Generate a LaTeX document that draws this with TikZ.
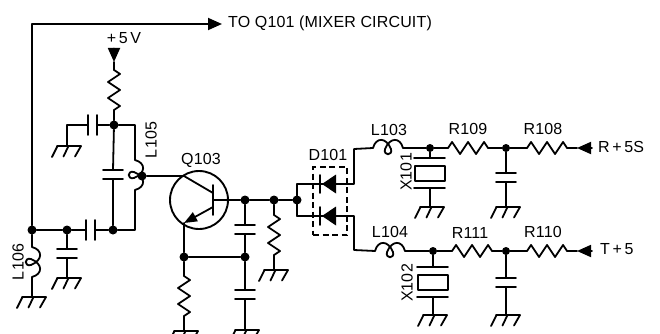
\documentclass[tikz,border=0pt]{standalone}
\usepackage{fontspec}
\setmainfont[LetterSpace=1]{Liberation Sans}
\usetikzlibrary{arrows.meta}
\tikzset{
  x=1pt,y=-1pt,
  wire/.style={line width=1.8pt,line join=round,line cap=round},
  dot/.style={circle,fill=black,inner sep=0pt,minimum size=9pt},
  lbl/.style={inner sep=0pt,font=\fontsize{16}{16}\selectfont},
  arr/.style={wire,-{Triangle[length=14pt,width=12pt]}},
  res/.pic={
    \coordinate (-in) at (0,0); \coordinate (-out) at (40,0);
    \draw[wire] (0,0)--(4,-6)--(12,6)--(20,-6)--(28,6)--(36,-6)--(40,0);
  },
  cap/.pic={
    \coordinate (-in) at (0,0); \coordinate (-out) at (9,0);
    \draw[wire] (0,-10)--(0,10) (9,-10)--(9,10);
  },
  coil/.pic={
    \coordinate (-in) at (0,0); \coordinate (-out) at (30,0); \coordinate (-mid) at (15,0);
    \draw[wire] (0,0) .. controls (3,-11) and (13,-11) .. (18,1)
      .. controls (20,8) and (10,8) .. (12,1)
      .. controls (17,-11) and (27,-11) .. (30,0);
  },
  gnd/.pic={
    \coordinate (-top) at (0,0);
    \draw[wire] (-10,0)--(14,0) (-9.5,0)--(-15,11) (1.5,0)--(-3.5,10.5) (14,0)--(8,10.5);
  },
  xtal/.pic={
    \coordinate (-in) at (0,0); \coordinate (-out) at (30,0);
    \draw[wire] (0,-15)--(0,16) (30,-15)--(30,16);
    \draw[wire] (8,-15) rectangle (23,15);
  },
  diode/.pic={
    \fill (2,0)--(16,-9.5)--(16,9.5)--cycle;
    \draw[wire] (0,-9)--(0,9);
  }
}
\begin{document}
\begin{tikzpicture}
\useasboundingbox (0,0) rectangle (660,334);
% junctions
\node[dot] (jL) at (32,230) {};
\node[dot] (jC) at (67,230) {};
\node[dot] (jB) at (113,230) {};
\node[dot] (jT) at (114,125) {};
\node[dot] (jbase) at (142,176) {};
\node[dot] (jE) at (184,257) {};
\node[dot] (jF) at (245,257) {};
\node[dot] (jO1) at (245,200) {};
\node[dot] (jO2) at (274,200) {};
\node[dot] (jO3) at (297,200) {};
\node[dot,minimum size=8pt] (j1a) at (430,148) {};
\node[dot,minimum size=8pt] (j1b) at (506,148) {};
\node[dot,minimum size=8pt] (j2a) at (433,251) {};
\node[dot,minimum size=8pt] (j2b) at (506,251) {};
% coordinates
\coordinate (tl) at (32,24);
\coordinate (tr) at (222,24);
\coordinate (p5) at (114,50);
\coordinate (p5t) at (114,62);
\coordinate (cg) at (67,125);
\coordinate (Lt) at (135,125);
\coordinate (Lb) at (135,230);
\coordinate (cc) at (213,193);
\coordinate (ce) at (213,207);
\coordinate (eb) at (184,223);
\coordinate (bb) at (184,176);
\coordinate (d1) at (297,184);
\coordinate (d2) at (297,216);
\coordinate (u1) at (354,184);
\coordinate (u2) at (354,149);
\coordinate (v1) at (354,216);
\coordinate (v2) at (354,250);
\coordinate (t1) at (592,148);
\coordinate (t1t) at (577,148);
\coordinate (t2) at (592,251);
\coordinate (t2t) at (577,251);
% components
\pic[rotate=-90] (r5) at (114,70) {res};
\pic (c1) at (88,125) {cap};
\pic[rotate=-90] (c2) at (113,170) {cap};
\pic (c3) at (86,230) {cap};
\pic[rotate=-90] (c4) at (67,249) {cap};
\pic[rotate=-90] (L105) at (135,160) {coil};
\pic[rotate=-90] (L106) at (32,247) {coil};
\pic (g1) at (67,146) {gnd};
\pic (g2) at (67,278) {gnd};
\pic (g3) at (32,297) {gnd};
\pic[rotate=-90] (r6) at (184,276) {res};
\pic (g4) at (184,331) {gnd};
\pic[rotate=-90] (c5) at (245,225) {cap};
\pic[rotate=-90] (c6) at (245,290) {cap};
\pic (g5) at (245,330) {gnd};
\pic[rotate=-90] (r7) at (274,215) {res};
\pic (g6) at (274,270) {gnd};
\pic (d101a) at (320,184) {diode};
\pic (d101b) at (320,216) {diode};
\pic (L103) at (373,148) {coil};
\pic (L104) at (375,251) {coil};
\pic[rotate=-90] (x1) at (430,158) {xtal};
\pic[rotate=-90] (x2) at (433,267) {xtal};
\pic (g7) at (430,207) {gnd};
\pic (g8) at (433,315) {gnd};
\pic (R109) at (448,148) {res};
\pic (R108) at (527,148) {res};
\pic (R111) at (452,251) {res};
\pic (R110) at (527,251) {res};
\pic[rotate=-90] (c7) at (506,173) {cap};
\pic[rotate=-90] (c8) at (506,278) {cap};
\pic (g9) at (506,207) {gnd};
\pic (g10) at (506,315) {gnd};
% transistor
\node[circle,draw,line width=1.9pt,minimum size=58pt,inner sep=0pt] (q) at (199,200) {};
\draw[wire] (213,185)--(213,215);
% connectors
\draw[wire] (jL)--(tl);
\draw[arr] (tl)--(tr);
\draw[arr] (p5)--(p5t);
\draw[wire] (p5t)--(r5-in);
\draw[wire] (r5-out)--(jT);
\draw[wire] (jT)--(c1-out);
\draw[wire] (c1-in)--(cg)--(g1-top);
\draw[wire] (jT)--(c2-in);
\draw[wire] (c2-out)--(jB);
\draw[wire] (jT)--(Lt)--(L105-in);
\draw[wire] (L105-out)--(Lb)--(jB);
\draw[wire] (jB)--(c3-out);
\draw[wire] (c3-in)--(jC)--(jL);
\draw[wire] (jC)--(c4-in);
\draw[wire] (c4-out)--(g2-top);
\draw[wire] (jL)--(L106-in);
\draw[wire] (L106-out)--(g3-top);
\draw[wire] (jbase)--(bb)--(cc);
\draw[wire,-{Triangle[length=13pt,width=10pt]}] (ce)--(eb);
\draw[wire] (eb)--(jE);
\draw[wire] (jE)--(jF);
\draw[wire] (jE)--(r6-in);
\draw[wire] (r6-out)--(g4-top);
\draw[wire] (213,200)--(jO1);
\draw[wire] (jO1)--(jO2);
\draw[wire] (jO2)--(jO3);
\draw[wire] (jO1)--(c5-in);
\draw[wire] (c5-out)--(jF);
\draw[wire] (jF)--(c6-in);
\draw[wire] (c6-out)--(g5-top);
\draw[wire] (jO2)--(r7-in);
\draw[wire] (r7-out)--(g6-top);
\draw[wire] (d1)--(d2);
\draw[wire] (d1)--(u1)--(u2)--(L103-in);
\draw[wire] (d2)--(v1)--(v2)--(L104-in);
\draw[wire] (L103-out)--(j1a);
\draw[wire] (j1a)--(R109-in);
\draw[wire] (R109-out)--(j1b);
\draw[wire] (j1b)--(R108-in);
\draw[wire] (R108-out)--(t1t);
\draw[arr] (t1)--(t1t);
\draw[wire] (L104-out)--(j2a);
\draw[wire] (j2a)--(R111-in);
\draw[wire] (R111-out)--(j2b);
\draw[wire] (j2b)--(R110-in);
\draw[wire] (R110-out)--(t2t);
\draw[arr] (t2)--(t2t);
\draw[wire] (j1a)--(x1-in);
\draw[wire] (x1-out)--(g7-top);
\draw[wire] (j2a)--(x2-in);
\draw[wire] (x2-out)--(g8-top);
\draw[wire] (j1b)--(c7-in);
\draw[wire] (c7-out)--(g9-top);
\draw[wire] (j2b)--(c8-in);
\draw[wire] (c8-out)--(g10-top);
% dashed box
\node[draw,line width=1.2pt,dash pattern=on 6pt off 3.5pt,minimum width=34pt,minimum height=68pt,inner sep=0pt] (dbox) at (330,201) {};
% labels
\node[lbl,anchor=west] (tTO) at (228,23) {TO Q101 (MIXER CIRCUIT)};
\node[lbl] (t5V) at (124,38) {+\,5\,V};
\node[lbl,rotate=90] (tL105) at (151,140) {L105};
\node[lbl,rotate=90] (tL106) at (18,262) {L106};
\node[lbl] (tQ) at (201,160) {Q103};
\node[lbl] (tD) at (328,155) {D101};
\node[lbl] (tL103) at (389,130) {L103};
\node[lbl] (tL104) at (390,232) {L104};
\node[lbl] (tR109) at (468,129) {R109};
\node[lbl] (tR108) at (543,129) {R108};
\node[lbl] (tR111) at (470,233) {R111};
\node[lbl] (tR110) at (543,232) {R110};
\node[lbl,rotate=90] (tX1) at (406,172) {X101};
\node[lbl,rotate=90] (tX2) at (407,283) {X102};
\node[lbl,anchor=west] (tRS) at (598,147) {R\,+\,5S};
\node[lbl,anchor=west] (tT5) at (600,249) {T\,+\,5};
\end{tikzpicture}
\end{document}
